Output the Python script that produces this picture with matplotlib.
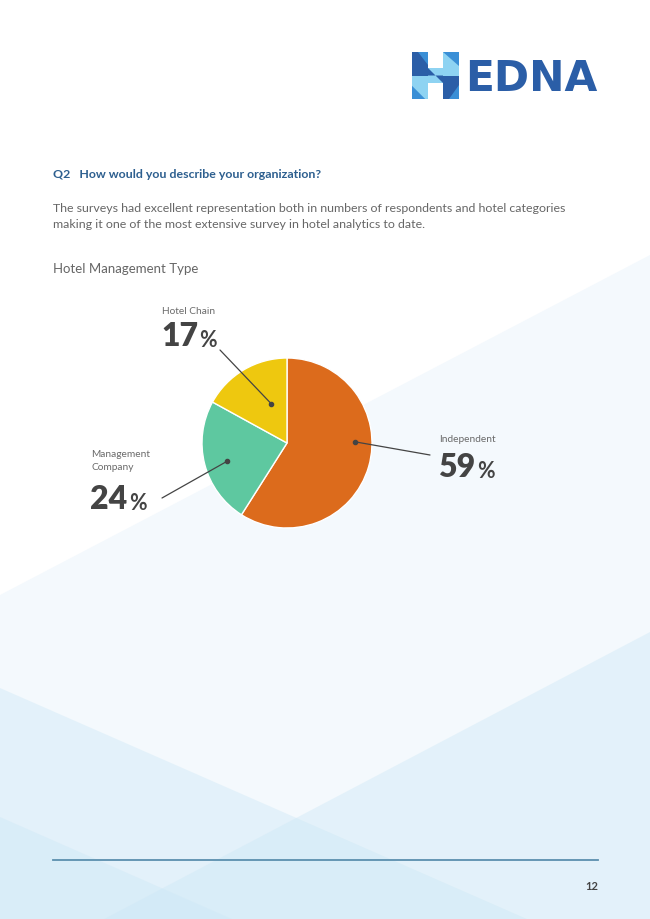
import matplotlib
matplotlib.use('Agg')
import matplotlib.pyplot as plt
from matplotlib.patches import Polygon
import numpy as np

plt.rcParams['font.family'] = ['Lato', 'DejaVu Sans']

# chart data
labels = ['Independent', 'Management\nCompany', 'Hotel Chain']
shares = [59, 24, 17]
colors = ['#dc6b1c', '#5ec8a0', '#eec80f']

W, H = 650, 919
fig = plt.figure(figsize=(6.5, 9.19), dpi=100)

# page canvas in pixel coords (y goes down)
bg = fig.add_axes([0, 0, 1, 1])
bg.set_xlim(0, W)
bg.set_ylim(H, 0)
bg.axis('off')

# background shapes
bg.add_patch(Polygon([(0, 595), (650, 255), (650, 919), (0, 919)], closed=True,
                     facecolor='#f4f9fd', edgecolor='none'))
band = dict(closed=True, facecolor='#cde8f6', edgecolor='none', alpha=0.42)
bg.add_patch(Polygon([(0, 688), (527, 919), (0, 919)], **band))
bg.add_patch(Polygon([(650, 632), (650, 919), (104, 919)], **band))
bg.add_patch(Polygon([(0, 817), (232, 919), (0, 919)], **band))

# logo
ix, iy, s = 412, 52, 47
dark, mid, light = '#2b5ea7', '#3a8fd6', '#8ed3f2'
icon = [
    ([(0, 0), (0.33, 0), (0.33, 0.5), (0, 0.5)], dark),
    ([(0.12, 0), (0.33, 0), (0.33, 0.28)], mid),
    ([(0, 0.5), (0.33, 0.5), (0.33, 1), (0, 1)], light),
    ([(0, 0.72), (0.28, 1), (0, 1)], mid),
    ([(0.33, 0.33), (0.67, 0.33), (0.67, 0.67), (0.33, 0.67)], light),
    ([(0.33, 0.33), (0.5, 0.5), (0.33, 0.5)], dark),
    ([(0.5, 0.5), (0.67, 0.67), (0.67, 0.5)], dark),
    ([(0.67, 0), (1, 0), (1, 0.5), (0.67, 0.5)], light),
    ([(0.67, 0), (1, 0), (1, 0.3)], mid),
    ([(0.67, 0.5), (1, 0.5), (1, 1), (0.67, 1)], dark),
    ([(1, 0.7), (1, 1), (0.78, 1)], mid),
]
for pts, c in icon:
    bg.add_patch(Polygon([(ix + s * px, iy + s * py) for px, py in pts],
                         closed=True, facecolor=c, edgecolor='none'))
bg.text(465, 91, 'EDNA', fontsize=30.5, fontweight='bold', color='#2b5ea7',
        va='baseline', ha='left', family='DejaVu Sans')

# heading and body text
bg.text(53, 175, 'Q2   How would you describe your organization?', fontsize=8.9,
        fontweight='bold', color='#2d5f8f', va='center')
bg.text(53, 208, 'The surveys had excellent representation both in numbers of respondents '
        'and hotel categories', fontsize=8.9, color='#666666', va='center')
bg.text(53, 224, 'making it one of the most extensive survey in hotel analytics to date.',
        fontsize=8.9, color='#666666', va='center')
bg.text(53, 269, 'Hotel Management Type', fontsize=9.5, color='#666666', va='center')

# footer
bg.plot([53, 598], [860, 860], color='#5b8fae', linewidth=1.3)
bg.text(598, 887, '12', fontsize=8, fontweight='bold', color='#444444',
        ha='right', va='center')

# pie
cx, cy, r = 287, 443, 85
ax = fig.add_axes([(cx - r) / W, 1 - (cy + r) / H, 2 * r / W, 2 * r / H])
ax.pie(shares, colors=colors, startangle=90, counterclock=False, radius=1,
       wedgeprops=dict(edgecolor='white', linewidth=1))
ax.set_xlim(-1, 1)
ax.set_ylim(-1, 1)
ax.set_aspect('equal')
ax.axis('off')

# callouts: dot inside wedge (angle deg, radius) -> label anchor (page px)
dots = [(1, 0.80), (197, 0.74), (112, 0.50)]
ends = [(430, 455), (162, 498), (220, 350)]
for (ang, rr), (ex, ey) in zip(dots, ends):
    x0, y0 = rr * np.cos(np.radians(ang)), rr * np.sin(np.radians(ang))
    ax.plot(x0, y0, 'o', color='#444444', markersize=3, clip_on=False)
    ax.annotate('', xy=(x0, y0), xycoords='data', xytext=(ex, ey),
                textcoords=bg.transData,
                arrowprops=dict(arrowstyle='-', color='#444444', linewidth=0.9,
                                shrinkA=0, shrinkB=0))

lab_pos = [(439, 439, 453), (91, 461, 485), (162, 311, 322)]
for name, val, (lx, ly, ny) in zip(labels, shares, lab_pos):
    bg.text(lx, ly, name, fontsize=7.3, color='#6a6a6a', va='center',
            linespacing=1.45)
    t = bg.text(lx - 1, ny + 24, str(val), fontsize=23, fontweight='heavy',
                color='#444444', va='baseline')
    bg.annotate('%', xy=(1, 0), xycoords=t, xytext=(1, 0),
                textcoords='offset points', fontsize=15.5, fontweight='bold',
                color='#444444', va='bottom')

fig.savefig('out.png', dpi=100)
